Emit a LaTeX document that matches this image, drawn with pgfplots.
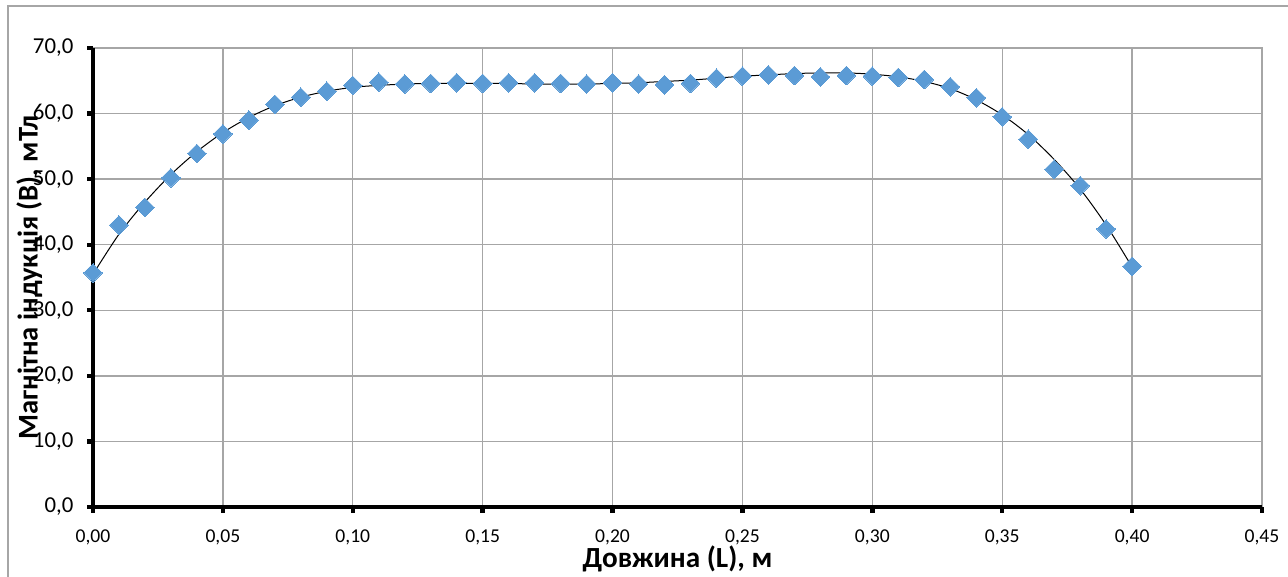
\documentclass[border=0pt]{standalone}
\usepackage{pgfplots}
\pgfplotsset{compat=1.18}
\usepackage{fontspec}
\setmainfont{Carlito}
\definecolor{mk}{HTML}{5B9BD5}
\definecolor{gr}{HTML}{A6A6A6}
\begin{document}
\begin{tikzpicture}
\useasboundingbox (-46.5pt,-35pt) rectangle (597.5pt,253.5pt);
\draw[gr, line width=0.8pt] (-42.5pt,-36pt) -- (-42.5pt,250.5pt) -- (598pt,250.5pt);
\begin{axis}[
  at={(0pt,0pt)}, anchor=origin,
  scale only axis, width=584.5pt, height=229.5pt,
  xmin=0, xmax=0.45, ymin=0, ymax=70,
  xtick={0,0.05,0.1,0.15,0.2,0.25,0.3,0.35,0.4,0.45},
  ytick={0,10,20,30,40,50,60,70},
  grid=major,
  major grid style={gr, line width=0.7pt},
  axis line style={draw=none},
  axis x line*=bottom, axis y line*=left,
  tick align=outside,
  major tick length=2.8pt,
  tick style={black, line width=2.2pt},
  /pgf/number format/assume math mode=true,
  xticklabel style={font=\fontsize{9.8}{11}\selectfont, yshift=-5pt, /pgf/number format/.cd, fixed, fixed zerofill, precision=2, use comma},
  yticklabel style={font=\fontsize{11.4}{13}\selectfont, xshift=-3.5pt, /pgf/number format/.cd, fixed, fixed zerofill, precision=1, use comma},
  scaled x ticks=false,
  xlabel={Довжина (L), м},
  ylabel={Магнітна індукція (B), мТл},
  xlabel style={font=\bfseries\fontsize{14.6}{17}\selectfont, at={(axis description cs:0.5,-0.112)}, anchor=center},
  ylabel style={font=\bfseries\fontsize{14.3}{17}\selectfont, at={(axis description cs:-0.0545,0.5)}, anchor=center, rotate=0},
  clip=false,
]
% plot area border (gray top/right)
\draw[gr, line width=0.8pt] (axis cs:0,70) -- (axis cs:0.45,70) -- (axis cs:0.45,0);
% trend line
\addplot[black, line width=0.5pt, smooth, no markers] coordinates {
(0.00,35.5) (0.01,41.6) (0.02,46.5) (0.03,50.7) (0.04,54.2) (0.05,57.1)
(0.06,59.4) (0.07,61.2) (0.08,62.5) (0.09,63.4) (0.10,64.0) (0.11,64.3)
(0.12,64.5) (0.13,64.6) (0.14,64.6) (0.15,64.6) (0.16,64.6) (0.17,64.5)
(0.18,64.5) (0.19,64.5) (0.20,64.6) (0.21,64.7) (0.22,64.9) (0.23,65.1)
(0.24,65.4) (0.25,65.7) (0.26,65.9) (0.27,66.1) (0.28,66.2) (0.29,66.2)
(0.30,66.0) (0.31,65.6) (0.32,64.9) (0.33,63.8) (0.34,62.1) (0.35,59.8)
(0.36,56.8) (0.37,53.0) (0.38,48.5) (0.39,43.0) (0.40,36.6)
};
% data
\addplot[only marks, mark=square*, mark size=3.3pt, mark options={rotate=45, fill=mk, draw=mk, line width=0pt}] coordinates {
(0.00,35.7) (0.01,43.0) (0.02,45.7) (0.03,50.2) (0.04,53.9) (0.05,56.9)
(0.06,59.0) (0.07,61.4) (0.08,62.5) (0.09,63.4) (0.10,64.3) (0.11,64.8)
(0.12,64.5) (0.13,64.6) (0.14,64.7) (0.15,64.6) (0.16,64.7) (0.17,64.7)
(0.18,64.6) (0.19,64.5) (0.20,64.7) (0.21,64.5) (0.22,64.4) (0.23,64.6)
(0.24,65.4) (0.25,65.7) (0.26,65.9) (0.27,65.8) (0.28,65.6) (0.29,65.8)
(0.30,65.7) (0.31,65.5) (0.32,65.2) (0.33,64.1) (0.34,62.4) (0.35,59.5)
(0.36,56.1) (0.37,51.5) (0.38,49.0) (0.39,42.4) (0.40,36.7)
};
% thick black axis lines
\draw[black, line width=2.2pt] (axis cs:0,70) -- (axis cs:0,0) -- (axis cs:0.45,0);
\end{axis}
\end{tikzpicture}
\end{document}
